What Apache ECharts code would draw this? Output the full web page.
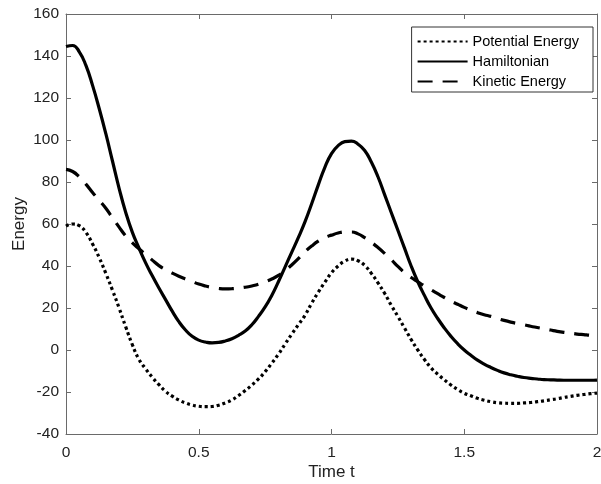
<!DOCTYPE html>
<html>
<head>
<meta charset="utf-8">
<script src="https://cdn.jsdelivr.net/npm/echarts@6/dist/echarts.min.js"></script>
<style>html,body{margin:0;padding:0;background:#fff;}#c{width:601px;height:484px;}</style>
</head>
<body>
<div id="c"></div>
<script>
// time samples (step 0.025)
const timeT = [0,0.025,0.05,0.075,0.1,0.125,0.15,0.175,0.2,0.225,0.25,0.275,0.3,0.325,0.35,0.375,0.4,0.425,0.45,0.475,
  0.5,0.525,0.55,0.575,0.6,0.625,0.65,0.675,0.7,0.725,0.75,0.775,0.8,0.825,0.85,0.875,0.9,0.925,0.95,0.975,
  1.0,1.025,1.05,1.075,1.1,1.125,1.15,1.175,1.2,1.225,1.25,1.275,1.3,1.325,1.35,1.375,1.4,1.425,1.45,1.475,
  1.5,1.525,1.55,1.575,1.6,1.625,1.65,1.675,1.7,1.725,1.75,1.775,1.8,1.825,1.85,1.875,1.9,1.925,1.95,1.975,2.0];
const potential = [59,60,59.2,56,50.5,44,36.5,28.5,20,11,2.5,-4.5,-9,-13,-16.5,-19.7,-22,-23.8,-25.2,-26.2,
  -26.8,-27,-26.9,-26.3,-25.2,-23.8,-21.7,-19.3,-16.7,-13.8,-10.3,-6.3,-2,2.8,7.5,12,16.5,22.2,27.5,32.3,
  36.8,40,42.3,43.3,42.5,40.3,36.5,32,27,21.3,16,10.5,5,0,-4.5,-8.5,-11.5,-14.2,-16.7,-18.8,
  -20.6,-21.8,-23,-23.9,-24.6,-25.1,-25.3,-25.4,-25.4,-25.2,-25,-24.6,-24.2,-23.7,-23.2,-22.6,-22.1,-21.6,-21.2,-20.8,-20.5];
const hamiltonian = [144.5,145,142,135.5,126,115,103,90,77,65.5,56,48.5,41.5,35.3,29.5,24,18.5,13.5,9.5,6.5,
  4.7,3.8,3.4,3.6,4.3,5.4,7,9,12,16,20.5,26,32.5,39.5,46.5,53.5,61,69.5,78.5,87,
  93.5,97.3,99.2,99.5,98,95,89.5,82.5,74,65.5,57,48.5,40,32.5,26,20,15,10.5,6.5,3,
  0,-2.5,-4.8,-6.7,-8.3,-9.7,-10.9,-11.8,-12.5,-13.1,-13.5,-13.8,-14.1,-14.2,-14.3,-14.4,-14.4,-14.4,-14.4,-14.4,-14.3];
const kinetic = [86,85,82.5,79,75,71.3,67.5,63,58.5,54.3,51,48.2,45.5,42.8,40.2,38.3,36.6,35.1,33.8,32.6,
  31.4,30.5,29.8,29.3,29.1,29.2,29.5,29.9,30.5,31.3,32.5,33.8,35.5,37.8,40.5,43.5,46.8,49.5,51.8,53.5,
  54.7,55.7,56.2,56.2,55.3,53.5,51.3,48.8,46,43,39.8,36.8,34.5,32.5,30.5,28.6,26.8,25,23.3,21.8,
  20.3,19,17.8,16.8,16,15,14.1,13.3,12.6,12,11.3,10.7,10.1,9.5,8.9,8.4,8,7.6,7.3,7.0,6.8];
const seriesNames = ['Potential Energy','Hamiltonian','Kinetic Energy'];
const xTicks = [0,0.5,1,1.5,2];
const yTicks = [-40,-20,0,20,40,60,80,100,120,140,160];

function zip(xs, ys){ return xs.map((x,i)=>[x, ys[i]]); }

const chart = echarts.init(document.getElementById('c'), null, {renderer:'canvas'});
const axisCol = '#6a6a6a';
const txtCol = '#222';
const font = 'Liberation Sans, Arial, sans-serif';
const baseAxis = {
  axisLine:{show:true, onZero:false, lineStyle:{color:axisCol, width:1}},
  axisTick:{show:true, inside:true, length:5, lineStyle:{color:axisCol}},
  splitLine:{show:false}
};
chart.setOption({
  animation:false,
  backgroundColor:'#fff',
  grid:{left:66, right:4, top:14, bottom:50, containLabel:false, outerBoundsMode:'none'},
  legend:{
    orient:'vertical', right:8, top:27,
    data:seriesNames,
    backgroundColor:'#fff', borderColor:'#333', borderWidth:1,
    padding:[7,14,3,5], itemGap:5, itemWidth:50, itemHeight:14,
    itemStyle:{color:'rgba(0,0,0,0)', borderWidth:0, opacity:0},
    textStyle:{fontFamily:font, fontSize:14.5, color:'#000'}
  },
  xAxis:[
    Object.assign({}, baseAxis, {type:'value', position:'bottom', min:0, max:2, interval:0.5,
      name:'Time t', nameLocation:'middle', nameGap:30, nameMoveOverlap:false,
      nameTextStyle:{fontFamily:font, fontSize:17, color:txtCol},
      axisLabel:{fontFamily:font, fontSize:15.5, color:txtCol, margin:11,
        formatter:v=>xTicks.includes(v)?String(v):''}}),
    Object.assign({}, baseAxis, {type:'value', position:'top', min:0, max:2, interval:0.5, axisLabel:{show:false}})
  ],
  yAxis:[
    Object.assign({}, baseAxis, {type:'value', position:'left', min:-40, max:160, interval:20,
      name:'Energy', nameLocation:'middle', nameGap:38, nameMoveOverlap:false,
      nameTextStyle:{fontFamily:font, fontSize:17, color:txtCol},
      axisLabel:{fontFamily:font, fontSize:15.5, color:txtCol, margin:7,
        formatter:v=>yTicks.includes(v)?String(v):''}}),
    Object.assign({}, baseAxis, {type:'value', position:'right', min:-40, max:160, interval:20, axisLabel:{show:false}})
  ],
  series:[
    {name:seriesNames[0], type:'line', smooth:true, symbol:'none', data:zip(timeT, potential),
      lineStyle:{color:'#000', width:3.2, type:[3,3], cap:'butt'}, itemStyle:{color:'#000'}},
    {name:seriesNames[1], type:'line', smooth:true, symbol:'none', data:zip(timeT, hamiltonian),
      lineStyle:{color:'#000', width:3.2, type:'solid'}, itemStyle:{color:'#000'}},
    {name:seriesNames[2], type:'line', smooth:true, symbol:'none', data:zip(timeT, kinetic),
      lineStyle:{color:'#000', width:3.2, type:[15,10], cap:'butt'}, itemStyle:{color:'#000'}}
  ]
});
</script>
</body>
</html>
